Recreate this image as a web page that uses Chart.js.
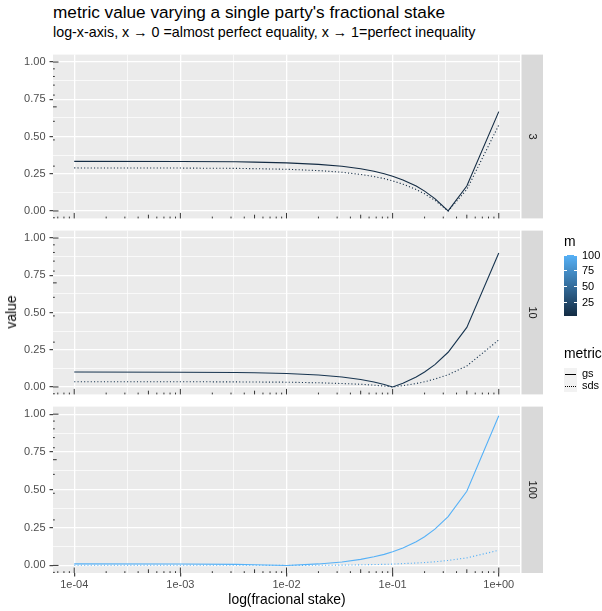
<!DOCTYPE html>
<html>
<head>
<meta charset="utf-8">
<script src="https://cdn.jsdelivr.net/npm/chart.js@4.4.1/dist/chart.umd.min.js"></script>
<style>
  body { margin: 0; background: #fff; font-family: "Liberation Sans", Arial, sans-serif; }
  #wrap { position: relative; width: 602px; height: 611px; overflow: hidden; }
  canvas.panel { position: absolute; left: 0; }
  .t { position: absolute; white-space: nowrap; line-height: 1; color: #000; }
  .tick { position: absolute; width: 2.6px; height: 1px; background: #fff; }
  .key { position: absolute; left: 564px; width: 13px; height: 12px; background: #F2F2F2; }
  .key span { position: absolute; left: 1px; right: 1px; top: 6px; height: 0; }
</style>
</head>
<body>
<div id="wrap">
  <div class="t" style="left:53px;top:4px;font-size:17.2px">metric value varying a single party's fractional stake</div>
  <div class="t" style="left:53px;top:25px;font-size:14.3px">log-x-axis, x → 0 =almost perfect equality, x → 1=perfect inequality</div>

  <canvas class="panel" id="p0" width="602" height="185" style="top:44px"></canvas>
  <canvas class="panel" id="p1" width="602" height="185" style="top:220px"></canvas>
  <canvas class="panel" id="p2" width="602" height="215" style="top:396px"></canvas>

  <div class="t" style="left:12px;top:312px;font-size:13.9px;transform:translate(-50%,-50%) rotate(-90deg)">value</div>
  <div class="t" style="left:287px;top:600px;font-size:13.9px;transform:translate(-50%,-50%)">log(fracional stake)</div>

  <!-- legends -->
  <div class="t" style="left:564px;top:235px;font-size:13.9px">m</div>
  <div id="bar" style="position:absolute;left:564px;top:255px;width:13px;height:61px"></div>
  <div id="barLabels"></div>

  <div class="t" style="left:564px;top:347px;font-size:13.9px">metric</div>
  <div class="key" style="top:368px"><span style="border-top:1.3px solid #000"></span></div>
  <div class="t" style="left:582px;top:368px;font-size:11px">gs</div>
  <div class="key" style="top:380px"><span style="border-top:1.3px dotted #000"></span></div>
  <div class="t" style="left:582px;top:380px;font-size:11px">sds</div>
</div>

<script>
// fractional stake of the single party (x axis)
const stakes = [0.0001, 0.001, 0.00333, 0.005, 0.01, 0.02, 0.0333, 0.05, 0.0667, 0.0833,
                0.1, 0.125, 0.1667, 0.2, 0.25, 0.3333, 0.5, 1];

// number of parties, one facet each
const partyCounts = [3, 10, 100];

// metric values per facet
const gsM3    = [0.333, 0.332, 0.330, 0.328, 0.323, 0.313, 0.300, 0.283, 0.267, 0.250,
                 0.233, 0.208, 0.167, 0.133, 0.083, 0.000, 0.167, 0.667];
const sdsM3   = [0.289, 0.288, 0.286, 0.284, 0.280, 0.271, 0.260, 0.245, 0.231, 0.217,
                 0.202, 0.180, 0.144, 0.115, 0.072, 0.000, 0.144, 0.577];
const gsM10   = [0.100, 0.099, 0.097, 0.095, 0.090, 0.080, 0.067, 0.050, 0.033, 0.017,
                 0.000, 0.025, 0.067, 0.100, 0.150, 0.233, 0.400, 0.900];
const sdsM10  = [0.035, 0.035, 0.034, 0.033, 0.032, 0.028, 0.023, 0.018, 0.012, 0.006,
                 0.000, 0.009, 0.023, 0.035, 0.053, 0.082, 0.141, 0.316];
const gsM100  = [0.010, 0.009, 0.007, 0.005, 0.000, 0.010, 0.023, 0.040, 0.057, 0.073,
                 0.090, 0.115, 0.157, 0.190, 0.240, 0.323, 0.490, 0.990];
const sdsM100 = [0.001, 0.001, 0.001, 0.001, 0.000, 0.001, 0.002, 0.004, 0.006, 0.007,
                 0.009, 0.012, 0.016, 0.019, 0.024, 0.033, 0.050, 0.100];

// axis breaks
const xMajor = [1e-4, 1e-3, 1e-2, 1e-1, 1];
const xLabels = ['1e-04', '1e-03', '1e-02', '1e-01', '1e+00'];
const xMinor = [3.162e-4, 3.162e-3, 3.162e-2, 0.3162];
const yMajor = [0, 0.25, 0.5, 0.75, 1];
const yLabels = ['0.00', '0.25', '0.50', '0.75', '1.00'];
const yMinor = [0.125, 0.375, 0.625, 0.875];
const legendBreaks = [25, 50, 75, 100];

const panels = [
  { m: partyCounts[0], gs: gsM3, sds: sdsM3 },
  { m: partyCounts[1], gs: gsM10, sds: sdsM10 },
  { m: partyCounts[2], gs: gsM100, sds: sdsM100 }
];

const FONT = '"Liberation Sans", Arial, sans-serif';
const lowColour = [19, 43, 67];    // #132B43
const highColour = [86, 177, 247]; // #56B1F7
const mMin = Math.min(...partyCounts), mMax = Math.max(...partyCounts);

function mColour(m) {
  const t = (m - mMin) / (mMax - mMin);
  const c = lowColour.map((v, i) => Math.round(v + (highColour[i] - v) * t));
  return `rgb(${c[0]},${c[1]},${c[2]})`;
}

// grey panel background
const panelBg = {
  id: 'panelBg',
  beforeDraw(chart) {
    const { ctx, chartArea: a } = chart;
    ctx.save();
    ctx.fillStyle = '#EBEBEB';
    ctx.fillRect(a.left, a.top, a.right - a.left, a.bottom - a.top);
    ctx.restore();
  }
};

// log ticks along the bottom and left edges of each panel
const logTicks = {
  id: 'logTicks',
  afterDatasetsDraw(chart) {
    const { ctx, chartArea: a, scales: { x, y } } = chart;
    const len = k => (k === 1 ? 5.5 : k === 5 ? 3.7 : 1.8);
    ctx.save();
    ctx.strokeStyle = '#333';
    ctx.lineWidth = 1;
    ctx.beginPath();
    for (let d = -5; d <= 1; d++) {
      for (let k = 1; k <= 9; k++) {
        const v = k * Math.pow(10, d);
        if (v < x.min || v > x.max) continue;
        const px = x.getPixelForValue(v);
        ctx.moveTo(px, a.bottom);
        ctx.lineTo(px, a.bottom - len(k));
      }
    }
    for (let d = -2; d <= 1; d++) {
      for (let k = 1; k <= 9; k++) {
        const v = Math.log10(k) + d;
        if (v < y.min || v > y.max) continue;
        const py = y.getPixelForValue(v);
        ctx.moveTo(a.left, py);
        ctx.lineTo(a.left + len(k), py);
      }
    }
    ctx.stroke();
    ctx.restore();
  }
};

// facet strip on the right
const strip = {
  id: 'strip',
  afterDraw(chart, args, opts) {
    const { ctx, chartArea: a } = chart;
    const x0 = a.right + 1.5, w = 21.5;
    ctx.save();
    ctx.fillStyle = '#D9D9D9';
    ctx.fillRect(x0, a.top, w, a.bottom - a.top);
    ctx.translate(x0 + w / 2, (a.top + a.bottom) / 2);
    ctx.rotate(Math.PI / 2);
    ctx.fillStyle = '#1A1A1A';
    ctx.font = '11px ' + FONT;
    ctx.textAlign = 'center';
    ctx.textBaseline = 'middle';
    ctx.fillText(opts.text, 0, 0);
    ctx.restore();
  }
};

const isMinor = c => c.tick && c.tick.minor;

function makePanel(idx) {
  const p = panels[idx];
  const last = idx === panels.length - 1;
  const colour = mColour(p.m);
  const canvas = document.getElementById('p' + idx);
  return new Chart(canvas, {
    type: 'line',
    data: {
      datasets: [
        {
          label: 'gs',
          data: stakes.map((x, i) => ({ x: x, y: p.gs[i] })),
          borderColor: colour,
          borderWidth: 1.1,
          pointRadius: 0,
          tension: 0
        },
        {
          label: 'sds',
          data: stakes.map((x, i) => ({ x: x, y: p.sds[i] })),
          borderColor: colour,
          borderWidth: 1.1,
          borderDash: [1.1, 2.2],
          pointRadius: 0,
          tension: 0
        }
      ]
    },
    options: {
      responsive: false,
      animation: false,
      layout: { padding: { top: 8, right: 82, left: 0, bottom: 0 } },
      plugins: {
        legend: { display: false },
        tooltip: { enabled: false },
        strip: { text: String(p.m) }
      },
      scales: {
        x: {
          type: 'logarithmic',
          bounds: 'data',
          min: Math.pow(10, -4.2),
          max: Math.pow(10, 0.2),
          afterBuildTicks: s => {
            s.ticks = xMajor.map((v, i) => ({ value: v, name: xLabels[i] }))
              .concat(xMinor.map(v => ({ value: v, name: '', minor: true })));
          },
          afterFit: s => { s.height = last ? 38 : 8; },
          border: { display: false },
          grid: {
            color: '#fff',
            lineWidth: c => (isMinor(c) ? 0.7 : 1.3),
            tickLength: 3.5,
            tickWidth: 1.1,
            tickColor: c => (last && !isMinor(c) ? '#333' : 'rgba(0,0,0,0)')
          },
          ticks: {
            display: last,
            autoSkip: false,
            maxRotation: 0,
            padding: 2,
            color: '#4D4D4D',
            font: { family: FONT, size: 11 },
            callback: (v, i, t) => t[i].name
          }
        },
        y: {
          bounds: 'data',
          min: -0.05,
          max: 1.05,
          afterBuildTicks: s => {
            s.ticks = yMajor.map((v, i) => ({ value: v, name: yLabels[i] }))
              .concat(yMinor.map(v => ({ value: v, name: '', minor: true })));
          },
          afterFit: s => { s.width = 53; },
          border: { display: false },
          grid: {
            color: '#fff',
            lineWidth: c => (isMinor(c) ? 0.7 : 1.3),
            tickLength: 3.5,
            tickWidth: 1.1,
            tickColor: c => (isMinor(c) ? 'rgba(0,0,0,0)' : '#333')
          },
          ticks: {
            padding: 4,
            color: '#4D4D4D',
            font: { family: FONT, size: 11 },
            callback: (v, i, t) => t[i].name
          }
        }
      }
    },
    plugins: [panelBg, logTicks, strip]
  });
}

panels.forEach((p, i) => makePanel(i));

// colourbar for m
const bar = document.getElementById('bar');
bar.style.background = `linear-gradient(to top, ${mColour(mMin)}, ${mColour(mMax)})`;
const barLabels = document.getElementById('barLabels');
legendBreaks.forEach(b => {
  const y = 255 + 61 * (mMax - b) / (mMax - mMin);
  barLabels.insertAdjacentHTML('beforeend',
    `<div class="tick" style="left:564px;top:${y - 0.5}px"></div>` +
    `<div class="tick" style="left:574.4px;top:${y - 0.5}px"></div>` +
    `<div class="t" style="left:582px;top:${y - 5.5}px;font-size:11px">${b}</div>`);
});
</script>
</body>
</html>
